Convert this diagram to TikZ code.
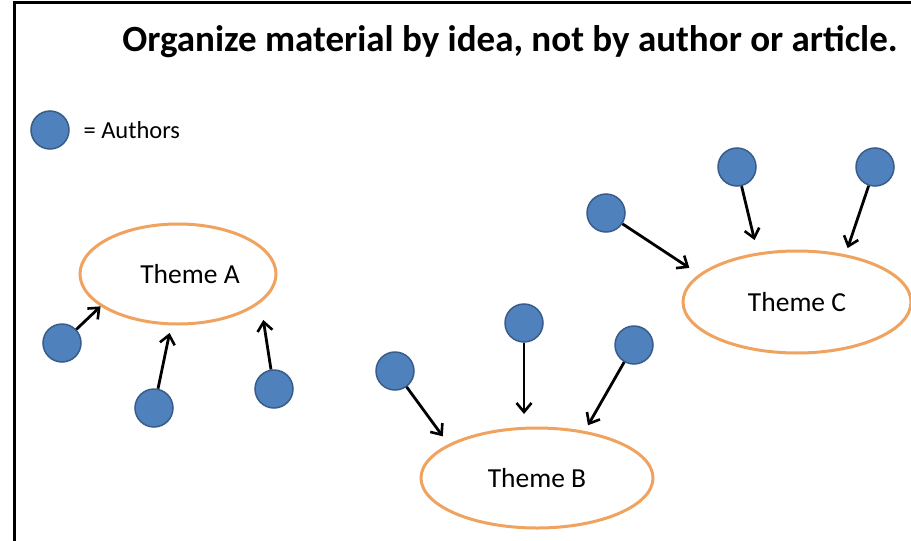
\documentclass[tikz,border=0pt]{standalone}
\usepackage{fontspec}
\setmainfont{Carlito}
\usetikzlibrary{arrows.meta,shapes.geometric}
\definecolor{authfill}{HTML}{4F81BD}
\definecolor{authline}{HTML}{385D8A}
\definecolor{themeline}{HTML}{F0A35E}
\begin{document}
\begin{tikzpicture}[x=1pt,y=-1pt,
  author/.style={circle,fill=authfill,draw=authline,line width=1.5pt,minimum size=38pt,inner sep=0pt},
  theme/.style={ellipse,draw=themeline,line width=3pt,inner sep=0pt,font=\fontsize{27.5}{32}\selectfont},
  link/.style={line width=2.8pt,-{Straight Barb[length=9pt,width=15pt,line width=2.6pt]},shorten >=2pt}]
\useasboundingbox (0,0) rectangle (911,541);
\fill[white] (0,0) rectangle (911,541);
\draw[line width=3pt] (14,541) -- (14,2.5) -- (911,2.5);
\node[font=\bfseries\fontsize{37}{44}\selectfont] (title) at (510,42) {Organize material by idea, not by author or article.};
\node[author] (leg) at (50,130) {};
\node[anchor=west,font=\fontsize{24.5}{29}\selectfont] (legt) at (80,130) {= Authors};
% Theme A
\node[theme,minimum width=196pt,minimum height=100pt] (A) at (178,274) {};
\node[font=\fontsize{27.5}{32}\selectfont] (At) at (190,274) {Theme A};
\node[author] (a1) at (62,343) {};
\node[author] (a2) at (154,408) {};
\node[author] (a3) at (274,389) {};
\coordinate (ae1) at (102,305);
\coordinate (ae2) at (170,331);
\coordinate (ae3) at (263,318);
\draw[link] (a1) -- (ae1);
\draw[link] (a2) -- (ae2);
\draw[link] (a3) -- (ae3);
% Theme B
\node[theme,minimum width=232pt,minimum height=100pt] (B) at (537,478) {Theme B};
\node[author] (b1) at (395,371) {};
\node[author] (b2) at (524,323) {};
\node[author] (b3) at (634,345) {};
\coordinate (be1) at (444,438);
\coordinate (be2) at (524,416);
\coordinate (be3) at (587,427);
\draw[link] (b1) -- (be1);
\draw[link] (b2) -- (be2);
\draw[link] (b3) -- (be3);
% Theme C
\node[theme,minimum width=228pt,minimum height=102pt] (C) at (797,302) {Theme C};
\node[author] (c1) at (606,213) {};
\node[author] (c2) at (737,167) {};
\node[author] (c3) at (875,167) {};
\coordinate (ce1) at (691,269);
\coordinate (ce2) at (755,242);
\coordinate (ce3) at (847,250);
\draw[link] (c1) -- (ce1);
\draw[link] (c2) -- (ce2);
\draw[link] (c3) -- (ce3);
\end{tikzpicture}
\end{document}
